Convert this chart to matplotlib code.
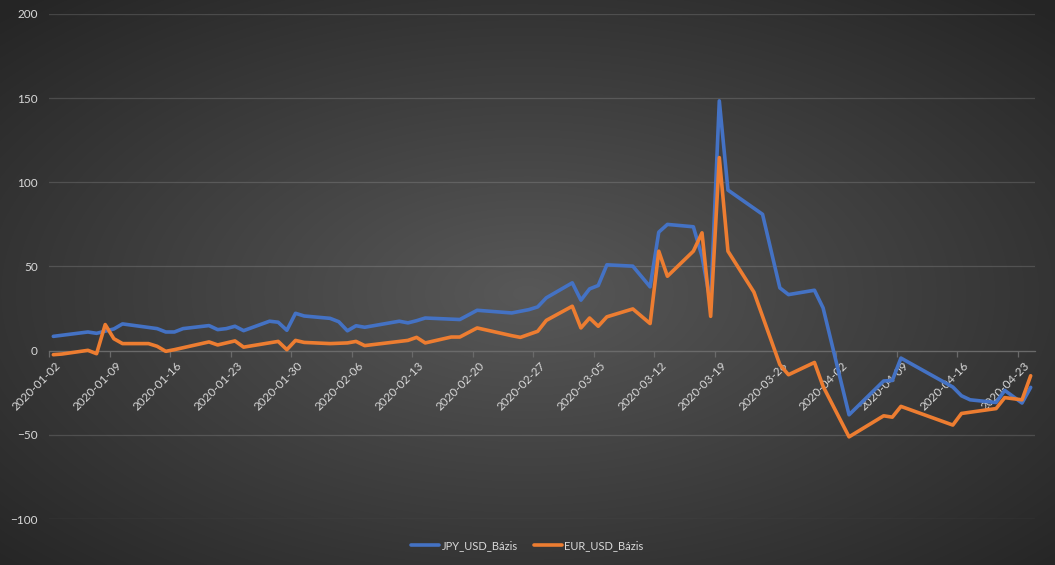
import numpy as np
import pandas as pd
import matplotlib
matplotlib.use('Agg')
import matplotlib.pyplot as plt
from matplotlib.transforms import ScaledTranslation

# values (visible vertices only)
jpy_dates = ['2020-01-02', '2020-01-06', '2020-01-07', '2020-01-09', '2020-01-10',
             '2020-01-14', '2020-01-15', '2020-01-16', '2020-01-17', '2020-01-20',
             '2020-01-21', '2020-01-22', '2020-01-23', '2020-01-24', '2020-01-27',
             '2020-01-28', '2020-01-29', '2020-01-30', '2020-01-31', '2020-02-03',
             '2020-02-04', '2020-02-05', '2020-02-06', '2020-02-07', '2020-02-11',
             '2020-02-12', '2020-02-13', '2020-02-14', '2020-02-18', '2020-02-20',
             '2020-02-24', '2020-02-26', '2020-02-27', '2020-02-28', '2020-03-02',
             '2020-03-03', '2020-03-04', '2020-03-05', '2020-03-06', '2020-03-09',
             '2020-03-11', '2020-03-12', '2020-03-13', '2020-03-16', '2020-03-17',
             '2020-03-18', '2020-03-19', '2020-03-20', '2020-03-24', '2020-03-26',
             '2020-03-27', '2020-03-30', '2020-03-31', '2020-04-03', '2020-04-07',
             '2020-04-08', '2020-04-09', '2020-04-15', '2020-04-16', '2020-04-17',
             '2020-04-20', '2020-04-21', '2020-04-23', '2020-04-24']
jpy_vals = [8.5, 11.1, 10.3, 12.9, 15.9,
            13.1, 11.1, 11.1, 13.1, 14.9,
            12.5, 13.1, 14.5, 11.9, 17.5,
            16.9, 12.1, 22.2, 20.6, 19.2,
            17.2, 11.8, 14.8, 13.9, 17.5,
            16.5, 17.8, 19.4, 18.5, 24.0,
            22.4, 24.4, 26.0, 31.4, 40.3,
            30.0, 36.7, 38.7, 51.0, 50.2,
            37.9, 70.4, 75.0, 73.6, 56.0,
            28.0, 148.4, 95.4, 81.0, 37.3,
            33.3, 35.9, 25.4, -38.1, -18.0,
            -17.7, -4.4, -21.6, -26.8, -29.2,
            -30.8, -23.6, -31.1, -21.8]

eur_dates = ['2020-01-02', '2020-01-03', '2020-01-06', '2020-01-07', '2020-01-08',
             '2020-01-09', '2020-01-10', '2020-01-13', '2020-01-14', '2020-01-15',
             '2020-01-16', '2020-01-20', '2020-01-21', '2020-01-23', '2020-01-24',
             '2020-01-28', '2020-01-29', '2020-01-30', '2020-01-31', '2020-02-03',
             '2020-02-05', '2020-02-06', '2020-02-07', '2020-02-12', '2020-02-13',
             '2020-02-14', '2020-02-17', '2020-02-18', '2020-02-20', '2020-02-24',
             '2020-02-25', '2020-02-27', '2020-02-28', '2020-03-02', '2020-03-03',
             '2020-03-04', '2020-03-05', '2020-03-06', '2020-03-09', '2020-03-11',
             '2020-03-12', '2020-03-13', '2020-03-16', '2020-03-17', '2020-03-18',
             '2020-03-19', '2020-03-20', '2020-03-23', '2020-03-24', '2020-03-26',
             '2020-03-27', '2020-03-30', '2020-03-31', '2020-04-03', '2020-04-07',
             '2020-04-08', '2020-04-09', '2020-04-15', '2020-04-16', '2020-04-20',
             '2020-04-21', '2020-04-23', '2020-04-24']
eur_vals = [-2.4, -2.0, 0.2, -1.8, 15.5,
            7.1, 4.2, 4.2, 2.6, -0.4,
            0.6, 5.2, 3.4, 5.8, 2.1,
            5.5, 0.6, 6.1, 4.9, 4.2,
            4.6, 5.5, 3.0, 6.1, 7.9,
            4.6, 8.1, 8.1, 13.5, 8.9,
            7.9, 11.5, 18.0, 26.4, 13.5,
            19.4, 14.5, 20.1, 24.8, 16.1,
            59.1, 44.2, 59.1, 70.0, 20.4,
            114.7, 59.1, 34.8, 20.4, -8.3,
            -14.3, -7.0, -21.2, -51.2, -38.7,
            -39.5, -33.1, -44.2, -37.3, -34.4,
            -27.9, -29.2, -14.9]

series_names = ['JPY_USD_Bázis', 'EUR_USD_Bázis']
series_colors = ['#4472C4', '#ED7D31']

text_col = '#d9d9d9'
plt.rcParams['font.family'] = ['Lato', 'DejaVu Sans']

fig = plt.figure(figsize=(10.55, 5.65), dpi=100)

# radial gradient background like the excel dark style
bg = fig.add_axes([0, 0, 1, 1], zorder=-5)
yy, xx = np.mgrid[0:1:565j, 0:1:1055j]
r = np.sqrt(((xx - 0.5) / 0.5) ** 2 + ((yy - 0.52) / 0.5) ** 2) / np.sqrt(2)
r = np.clip(r, 0, 1)
c_in = np.array([0x58, 0x58, 0x58]) / 255.
c_out = np.array([0x25, 0x25, 0x25]) / 255.
img = c_in[None, None, :] + (c_out - c_in)[None, None, :] * r[..., None]
bg.imshow(img, aspect='auto', extent=[0, 1, 0, 1])
bg.axis('off')

ax = fig.add_axes([49 / 1055, 46 / 565, 986 / 1055, 505 / 565])
ax.patch.set_alpha(0)

half_day = pd.Timedelta(hours=12)
for dates, vals, name, col in zip([jpy_dates, eur_dates], [jpy_vals, eur_vals],
                                  series_names, series_colors):
    x = pd.to_datetime(dates) + half_day
    ax.plot(x, vals, color=col, lw=2.6, label=name,
            solid_joinstyle='round', solid_capstyle='round', zorder=3)

ax.set_ylim(-100, 200)
ax.set_yticks(np.arange(-100, 201, 50))
ax.set_xlim(pd.Timestamp('2020-01-02'), pd.Timestamp('2020-04-25'))

tick_dates = pd.date_range('2020-01-02', '2020-04-23', freq='7D')
ax.set_xticks(tick_dates)
ax.set_xticklabels([d.strftime('%Y-%m-%d') for d in tick_dates])

ax.grid(axis='y', color='white', alpha=0.14, lw=0.9)
ax.set_axisbelow(True)

for s in ['top', 'right', 'left']:
    ax.spines[s].set_visible(False)
ax.spines['bottom'].set_position(('data', 0))
ax.spines['bottom'].set_color('#6a6a6a')
ax.spines['bottom'].set_linewidth(0.9)

ax.tick_params(axis='y', length=0, pad=8, labelsize=8.5, labelcolor=text_col)
ax.tick_params(axis='x', length=4, width=0.9, color='#6a6a6a', pad=2,
               labelsize=8.5, labelcolor=text_col)

# shift rotated date labels a bit right and down
offset = ScaledTranslation(0.10, -0.05, fig.dpi_scale_trans)
for lab in ax.get_xticklabels():
    lab.set_rotation(45)
    lab.set_ha('right')
    lab.set_va('center')
    lab.set_rotation_mode('anchor')
    lab.set_transform(lab.get_transform() + offset)

leg = fig.legend(loc='center', bbox_to_anchor=(0.5, 0.035), ncol=2, frameon=False,
                 fontsize=8, handlelength=2.5, handletextpad=0.2,
                 columnspacing=1.5)
for t in leg.get_texts():
    t.set_color(text_col)

fig.savefig('out.png', dpi=100)
